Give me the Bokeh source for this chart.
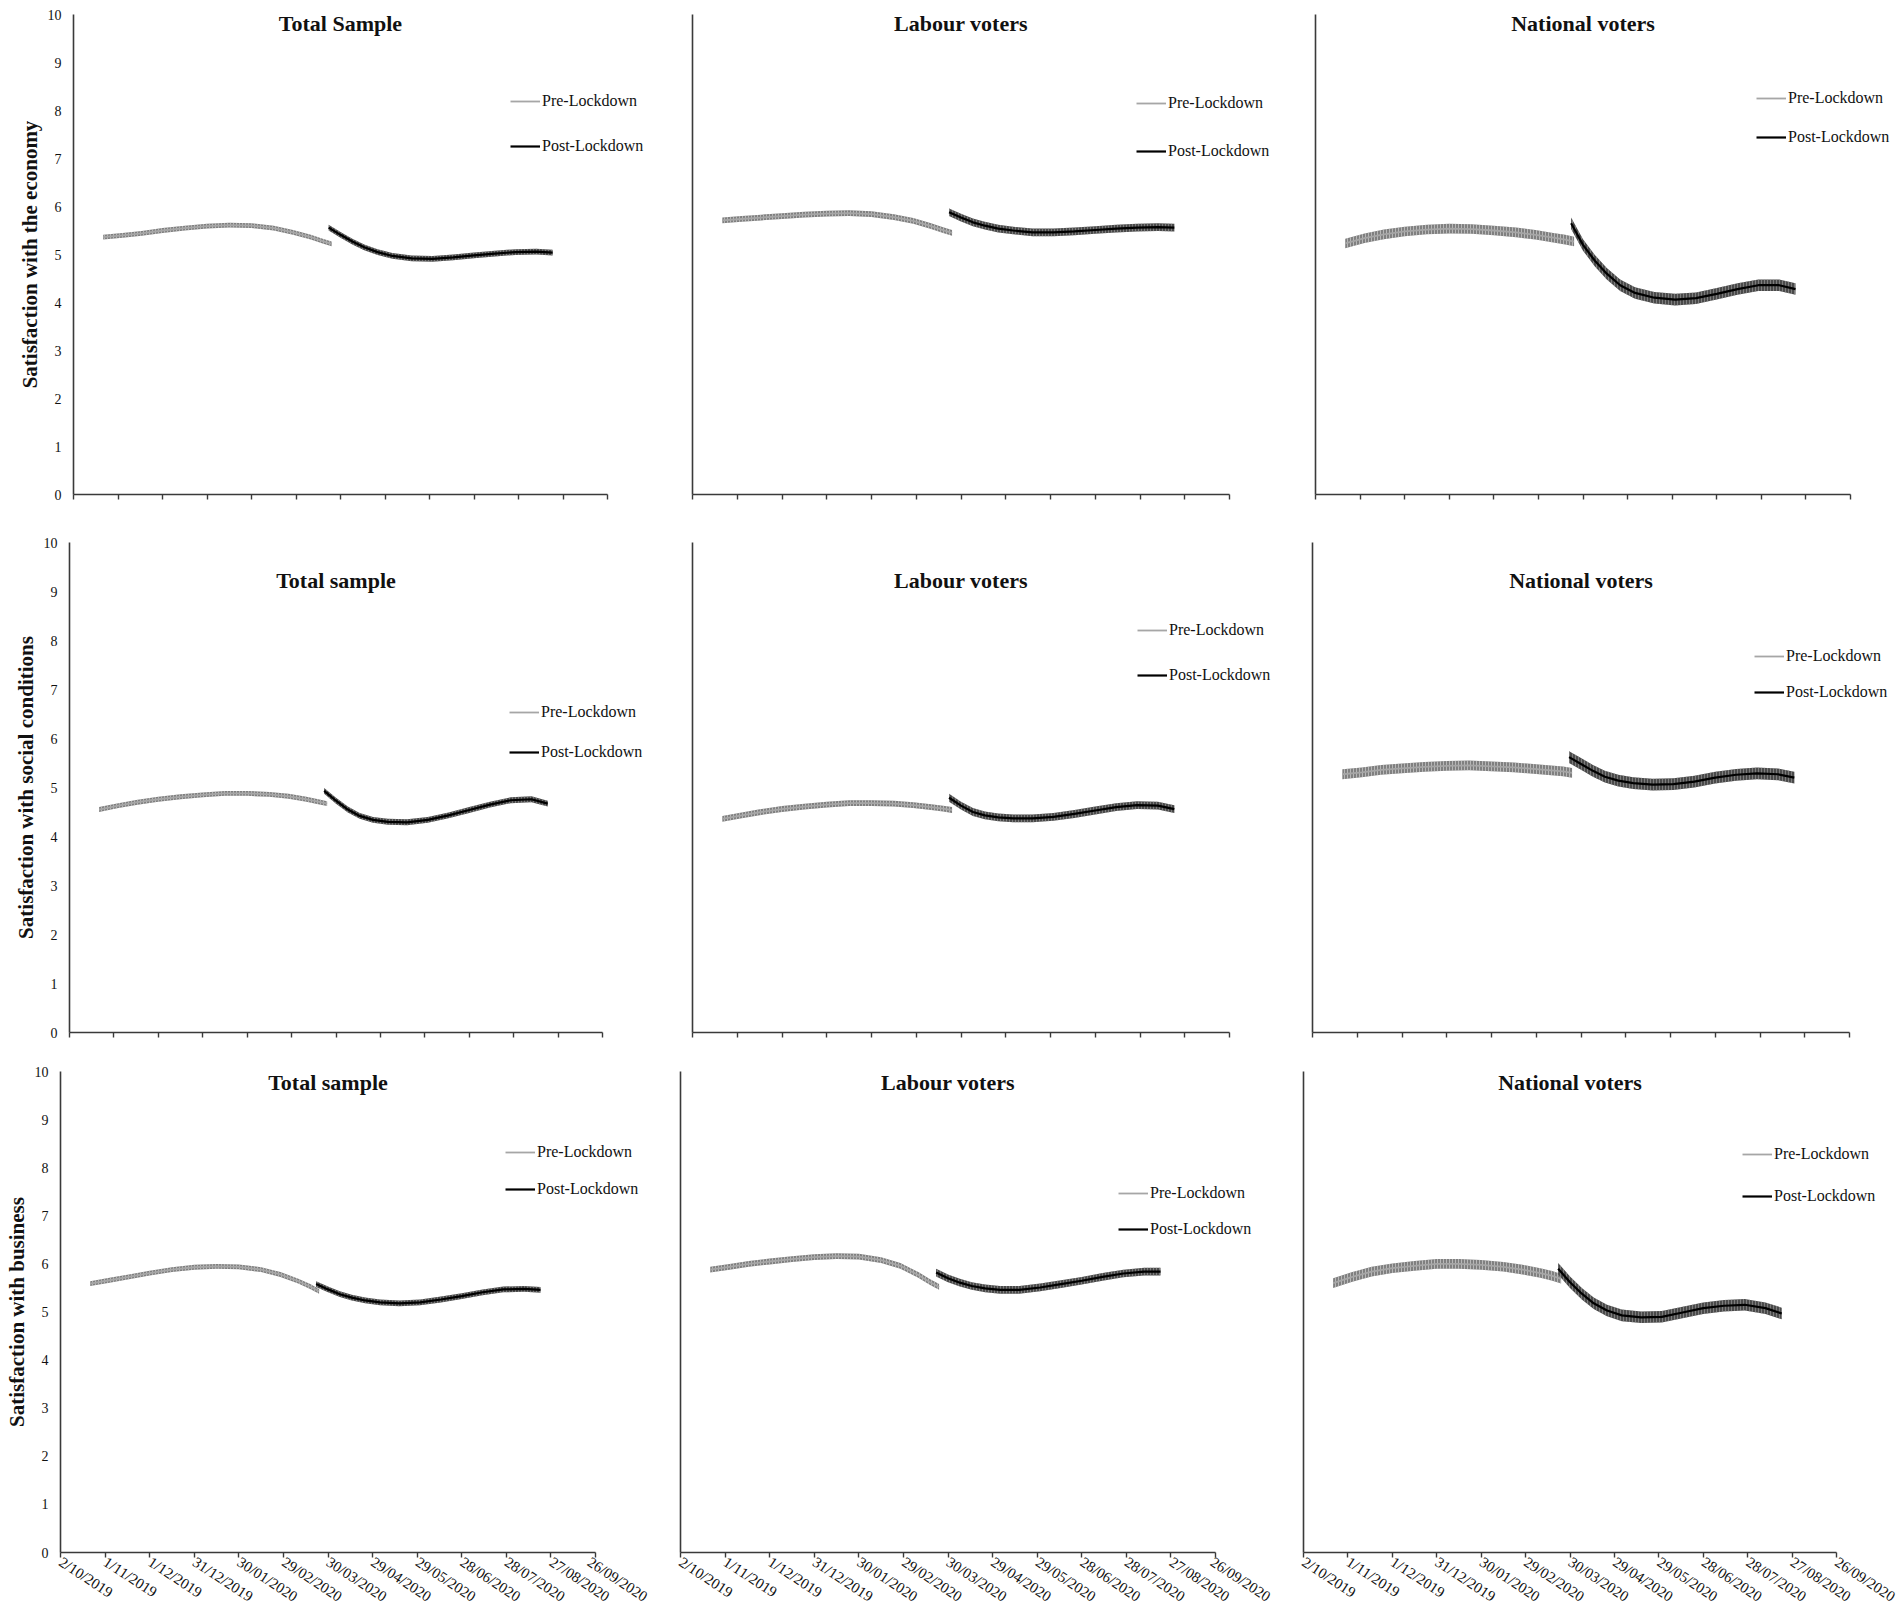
from bokeh.plotting import figure
from bokeh.layouts import column, row
from bokeh.models import Range1d, FixedTicker, Legend, LegendItem, Label
from bokeh.embed import file_html
from bokeh.resources import INLINE

# ---------------- data ----------------
DATE_TICKS = [0, 30, 60, 90, 120, 150, 180, 210, 240, 270, 300, 330, 360]  # days since 2/10/2019
DATE_LABELS = ["2/10/2019", "1/11/2019", "1/12/2019", "31/12/2019", "30/01/2020",
               "29/02/2020", "30/03/2020", "29/04/2020", "29/05/2020", "28/06/2020",
               "28/07/2020", "27/08/2020", "26/09/2020"]

PRE_DAYS = [20, 33, 46, 60, 75, 90, 105, 120, 135, 148, 160, 168, 174]
POST_DAYS = [172, 180, 188, 196, 205, 215, 228, 242, 256, 270, 284, 298, 312, 323]

ECON_TOTAL_PRE = [5.36, 5.40, 5.44, 5.50, 5.55, 5.59, 5.61, 5.60, 5.55, 5.46, 5.36, 5.28, 5.22]
ECON_TOTAL_POST = [5.56, 5.41, 5.27, 5.15, 5.05, 4.97, 4.92, 4.91, 4.94, 4.98, 5.02, 5.05, 5.06, 5.04]
ECON_LABOUR_PRE = [5.71, 5.74, 5.77, 5.80, 5.83, 5.85, 5.86, 5.84, 5.78, 5.70, 5.59, 5.51, 5.45]
ECON_LABOUR_POST = [5.88, 5.77, 5.67, 5.60, 5.54, 5.50, 5.46, 5.46, 5.48, 5.51, 5.54, 5.56, 5.57, 5.56]
ECON_NATIONAL_PRE = [5.23, 5.34, 5.42, 5.48, 5.52, 5.54, 5.53, 5.50, 5.46, 5.41, 5.35, 5.31, 5.27]
ECON_NATIONAL_POST = [5.65, 5.20, 4.87, 4.60, 4.36, 4.20, 4.10, 4.06, 4.09, 4.18, 4.28, 4.36, 4.36, 4.28]

SOCIAL_TOTAL_PRE = [4.55, 4.63, 4.70, 4.76, 4.81, 4.85, 4.88, 4.88, 4.86, 4.82, 4.76, 4.71, 4.67]
SOCIAL_TOTAL_POST = [4.93, 4.73, 4.55, 4.42, 4.34, 4.30, 4.29, 4.34, 4.43, 4.54, 4.65, 4.74, 4.76, 4.67]
SOCIAL_LABOUR_PRE = [4.36, 4.43, 4.50, 4.56, 4.61, 4.65, 4.68, 4.68, 4.67, 4.64, 4.60, 4.57, 4.54]
SOCIAL_LABOUR_POST = [4.79, 4.63, 4.50, 4.43, 4.39, 4.37, 4.37, 4.40, 4.46, 4.53, 4.60, 4.64, 4.63, 4.56]
SOCIAL_NATIONAL_PRE = [5.27, 5.31, 5.36, 5.39, 5.42, 5.44, 5.45, 5.43, 5.41, 5.38, 5.35, 5.33, 5.30]
SOCIAL_NATIONAL_POST = [5.62, 5.48, 5.34, 5.22, 5.14, 5.09, 5.06, 5.07, 5.12, 5.20, 5.26, 5.29, 5.27, 5.20]

BUSINESS_TOTAL_PRE = [5.59, 5.66, 5.73, 5.81, 5.88, 5.93, 5.95, 5.94, 5.88, 5.78, 5.64, 5.53, 5.43]
BUSINESS_TOTAL_POST = [5.58, 5.47, 5.37, 5.30, 5.24, 5.20, 5.18, 5.20, 5.26, 5.33, 5.41, 5.47, 5.48, 5.46]
BUSINESS_LABOUR_PRE = [5.88, 5.94, 6.00, 6.05, 6.10, 6.14, 6.16, 6.15, 6.08, 5.96, 5.77, 5.62, 5.52]
BUSINESS_LABOUR_POST = [5.82, 5.70, 5.61, 5.54, 5.49, 5.46, 5.46, 5.51, 5.58, 5.65, 5.73, 5.80, 5.84, 5.84]
BUSINESS_NATIONAL_PRE = [5.60, 5.73, 5.84, 5.91, 5.96, 6.00, 6.00, 5.98, 5.94, 5.88, 5.81, 5.75, 5.69]
BUSINESS_NATIONAL_POST = [5.90, 5.62, 5.38, 5.18, 5.03, 4.93, 4.89, 4.90, 4.99, 5.08, 5.13, 5.15, 5.08, 4.97]

# half-width of the error bars (standard errors) per group: Total, Labour, National
PRE_SE = [0.05, 0.06, 0.10]
POST_SE = [0.06, 0.08, 0.12]

Y_LABELS = ["Satisfaction with the economy", "Satisfaction with social conditions",
            "Satisfaction with business"]
TITLES = [["Total Sample", "Labour voters", "National voters"],
          ["Total sample", "Labour voters", "National voters"],
          ["Total sample", "Labour voters", "National voters"]]

SERIES = [
    [(ECON_TOTAL_PRE, ECON_TOTAL_POST), (ECON_LABOUR_PRE, ECON_LABOUR_POST),
     (ECON_NATIONAL_PRE, ECON_NATIONAL_POST)],
    [(SOCIAL_TOTAL_PRE, SOCIAL_TOTAL_POST), (SOCIAL_LABOUR_PRE, SOCIAL_LABOUR_POST),
     (SOCIAL_NATIONAL_PRE, SOCIAL_NATIONAL_POST)],
    [(BUSINESS_TOTAL_PRE, BUSINESS_TOTAL_POST), (BUSINESS_LABOUR_PRE, BUSINESS_LABOUR_POST),
     (BUSINESS_NATIONAL_PRE, BUSINESS_NATIONAL_POST)],
]

# ---------------- layout (pixels) ----------------
ROW_GEOM = [(14, 480, 24), (24, 490, 14), (25, 482, 61)]          # top border, frame h, bottom border
COL_GEOM = [
    [(73, 534, 55), (30, 537, 56), (30, 535, 50)],
    [(69, 533, 60), (30, 537, 53), (30, 537, 51)],
    [(60, 535, 55), (30, 535, 58), (30, 533, 64)],
]                                                                 # left border, axis length, right space
TITLE_Y = [9.82, 9.23, 9.77]
LEGEND_POS = [
    [(437, 338, 25), (444, 333, 28), (441, 347, 19)],
    [(440, 270, 20), (445, 347, 25), (442, 330, 16)],
    [(445, 353, 17), (438, 313, 16), (439, 346, 22)],
]                                                                 # x, y (px from frame bottom-left), spacing

FONT = "Liberation Serif"
AXIS_COLOR = "#3a3a3a"
X_END = DATE_TICKS[-1]


def make_panel(r, c):
    top, fh, bottom = ROW_GEOM[r]
    left, fw, right = COL_GEOM[r][c]
    frame_w = fw + right - 2
    p = figure(width=left + fw + right, height=top + fh + bottom,
               output_backend="svg", toolbar_location=None,
               x_range=Range1d(0, X_END * frame_w / fw), y_range=Range1d(0, 10),
               min_border_left=left, min_border_right=2,
               min_border_top=top, min_border_bottom=bottom)
    p.outline_line_color = None
    p.xgrid.visible = False
    p.ygrid.visible = False
    p.background_fill_color = "white"
    p.border_fill_color = "white"

    # axes
    p.xaxis.ticker = FixedTicker(ticks=DATE_TICKS)
    p.xaxis.bounds = (0, X_END)
    p.yaxis.ticker = FixedTicker(ticks=list(range(0, 11)))
    for ax in (p.xaxis[0], p.yaxis[0]):
        ax.axis_line_color = AXIS_COLOR
        ax.axis_line_width = 1.6
        ax.major_tick_line_color = AXIS_COLOR
        ax.major_tick_line_width = 1.4
        ax.minor_tick_line_color = None
        ax.major_label_text_font = FONT
        ax.major_label_text_font_size = "14px"
        ax.major_label_text_color = "#111111"
    p.xaxis.major_tick_in = 0
    p.xaxis.major_tick_out = 5
    p.yaxis.major_tick_in = 0
    p.yaxis.major_tick_out = 0
    p.yaxis.major_label_standoff = 12

    if r == 2:
        p.xaxis.major_label_overrides = {t: lab for t, lab in zip(DATE_TICKS, DATE_LABELS)}
        p.xaxis.major_label_orientation = -0.58
        p.xaxis.major_label_standoff = 3
        p.xaxis.major_label_text_font_size = "15px"
    else:
        p.xaxis.major_label_overrides = {t: "" for t in DATE_TICKS}

    if c == 0:
        p.yaxis.axis_label = Y_LABELS[r]
        p.yaxis.axis_label_text_font = FONT
        p.yaxis.axis_label_text_font_style = "bold"
        p.yaxis.axis_label_text_font_size = "21px"
        p.yaxis.axis_label_text_color = "#111111"
        p.yaxis.axis_label_standoff = 3
    else:
        p.yaxis.major_label_overrides = {t: "" for t in range(0, 11)}

    pre, post = SERIES[r][c]
    se_pre, se_post = PRE_SE[c], POST_SE[c]

    p.varea(x=PRE_DAYS, y1=[v - se_pre for v in pre], y2=[v + se_pre for v in pre],
            fill_color="#808080", hatch_pattern="vertical_line", hatch_color="#d6d6d6",
            hatch_scale=3, hatch_weight=0.8, hatch_alpha=0.8)
    lp = p.line(PRE_DAYS, pre, line_color="#a6a6a6", line_width=1.8)

    p.varea(x=POST_DAYS, y1=[v - se_post for v in post], y2=[v + se_post for v in post],
            fill_color="#4a4a4a", hatch_pattern="vertical_line", hatch_color="#9a9a9a",
            hatch_scale=3, hatch_weight=0.8, hatch_alpha=0.8)
    lq = p.line(POST_DAYS, post, line_color="black", line_width=2.2)

    lx, ly, sp = LEGEND_POS[r][c]
    legend = Legend(items=[LegendItem(label="Pre-Lockdown", renderers=[lp]),
                           LegendItem(label="Post-Lockdown", renderers=[lq])],
                    location=(lx, ly), orientation="vertical", padding=0, margin=0,
                    spacing=sp, glyph_width=30, glyph_height=20, label_height=20,
                    label_standoff=2, label_text_font=FONT, label_text_font_size="16px",
                    label_text_color="#111111",
                    border_line_alpha=0, background_fill_alpha=0)
    p.add_layout(legend)

    p.add_layout(Label(x=X_END / 2, y=TITLE_Y[r], text=TITLES[r][c], text_align="center",
                       text_baseline="middle", text_font=FONT, text_font_style="bold",
                       text_font_size="22px", text_color="#111111"))
    return p


rows = []
for r in range(3):
    rows.append(row(*[make_panel(r, c) for c in range(3)], spacing=0))
layout = column(*rows, spacing=0)

open("out.html", "w").write(file_html(layout, INLINE))
